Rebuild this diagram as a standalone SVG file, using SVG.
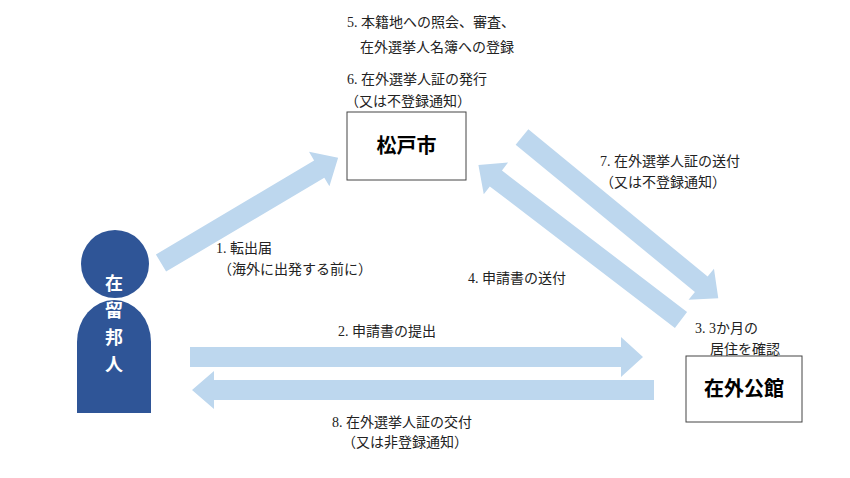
<svg xmlns="http://www.w3.org/2000/svg" width="850" height="478" viewBox="0 0 850 478">
<style>
.a{fill:#bdd7ee}
.t{font-family:"Liberation Serif","Noto Sans CJK JP",serif;font-size:14px;fill:#222}
.b{fill:#fff;stroke:#444;stroke-width:1}
.bt{font-family:"Noto Sans CJK JP",sans-serif;font-size:20px;font-weight:bold;fill:#000;text-anchor:middle}
</style>
<rect width="850" height="478" fill="#fff"/>
<g id="connectors">
<path class="a" transform="translate(161,263) rotate(-30.7)" d="M0,-10 H184 V-20 L206,0 L184,20 V10 H0 Z"/>
<path class="a" transform="translate(522,137) rotate(39.4)" d="M0,-10 H232 V-20 L254,0 L232,20 V10 H0 Z"/>
<path class="a" transform="translate(681,320) rotate(217.4)" d="M0,-10 H233 V-20 L255,0 L233,20 V10 H0 Z"/>
<path class="a" transform="translate(190,357)" d="M0,-10 H431 V-20 L453,0 L431,20 V10 H0 Z"/>
<path class="a" transform="translate(654,390) rotate(180)" d="M0,-10 H440 V-19 L462,0 L440,19 V10 H0 Z"/>
</g>
<g id="person">
<circle cx="115" cy="264" r="34" fill="#2f5597"/>
<path d="M77,413 V342 A37,42 0 0 1 151,342 V413 Z" fill="#2f5597"/>
<g font-family="Noto Sans CJK JP,sans-serif" font-size="18" font-weight="bold" fill="#fff" text-anchor="middle">
<text x="114" y="290">在</text><text x="114" y="317">留</text><text x="114" y="344">邦</text><text x="114" y="371">人</text>
</g>
</g>
<g id="matsudo">
<rect class="b" x="347" y="112" width="119" height="68"/>
<text class="bt" x="406.5" y="153">松戸市</text>
</g>
<g id="embassy">
<rect class="b" x="686" y="356" width="116" height="66"/>
<text class="bt" x="744" y="396">在外公館</text>
</g>
<g id="labels" class="t">
<text class="t" x="347" y="27">5. 本籍地への照会、審査、</text>
<text class="t" x="360" y="52">在外選挙人名簿への登録</text>
<text class="t" x="347" y="84">6. 在外選挙人証の発行</text>
<text class="t" x="345" y="106">（又は不登録通知）</text>
<text class="t" x="600" y="166">7. 在外選挙人証の送付</text>
<text class="t" x="600" y="187">（又は不登録通知）</text>
<text class="t" x="216" y="253">1. 転出届</text>
<text class="t" x="218" y="274">（海外に出発する前に）</text>
<text class="t" x="468" y="283">4. 申請書の送付</text>
<text class="t" x="695" y="333">3. 3か月の</text>
<text class="t" x="710" y="354">居住を確認</text>
<text class="t" x="338" y="336">2. 申請書の提出</text>
<text class="t" x="332" y="427">8. 在外選挙人証の交付</text>
<text class="t" x="342" y="447">（又は非登録通知）</text>
</g>
</svg>
